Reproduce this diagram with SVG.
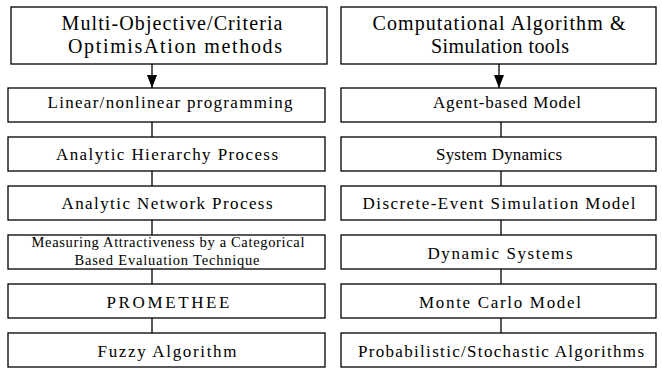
<svg xmlns="http://www.w3.org/2000/svg" width="662" height="368" viewBox="0 0 662 368">
  <defs>
    <style>
      .box { fill: #ffffff; stroke: #000000; stroke-width: 1.3; }
      .t { font-family: 'Liberation Serif', serif; fill: #000000; text-anchor: middle; }
      .h { font-size: 20px; }
      .m { font-size: 17px; }
      .s { font-size: 14.5px; }
      .link { stroke: #000000; stroke-width: 1.3; fill: none; }
    </style>
    <marker id="arrow" viewBox="0 0 13 10" refX="13" refY="5" markerWidth="13" markerHeight="10" markerUnits="userSpaceOnUse" orient="auto">
      <path d="M0,0 L13,5 L0,10 Z" fill="#000000"/>
    </marker>
  </defs>

  <rect width="662" height="368" fill="#ffffff"/>

  <!-- connectors -->
  <g id="connectors">
    <line class="link" x1="152" y1="64" x2="152" y2="88" marker-end="url(#arrow)"/>
    <line class="link" x1="152" y1="122" x2="152" y2="137"/>
    <line class="link" x1="152" y1="171" x2="152" y2="186"/>
    <line class="link" x1="152" y1="220" x2="152" y2="235"/>
    <line class="link" x1="152" y1="269" x2="152" y2="284"/>
    <line class="link" x1="152" y1="318" x2="152" y2="333"/>

    <line class="link" x1="499" y1="64" x2="499" y2="88" marker-end="url(#arrow)"/>
    <line class="link" x1="501" y1="122" x2="501" y2="137"/>
    <line class="link" x1="501" y1="171" x2="501" y2="186"/>
    <line class="link" x1="501" y1="220" x2="501" y2="235"/>
    <line class="link" x1="501" y1="269" x2="501" y2="284"/>
    <line class="link" x1="501" y1="318" x2="501" y2="333"/>
  </g>

  <!-- left column: optimisation methods -->
  <g id="mcda-header" font-family="'Liberation Serif', serif">
    <rect class="box" x="11" y="7" width="316" height="57"/>
    <text class="t h" x="172" y="30" textLength="221" lengthAdjust="spacing">Multi-Objective/Criteria</text>
    <text class="t h" x="175" y="53" textLength="214" lengthAdjust="spacing">OptimisAtion methods</text>
  </g>
  <g id="linear-programming" font-family="'Liberation Serif', serif">
    <rect class="box" x="8" y="88" width="317" height="34"/>
    <text class="t m" x="170" y="108" textLength="245" lengthAdjust="spacing">Linear/nonlinear programming</text>
  </g>
  <g id="ahp" font-family="'Liberation Serif', serif">
    <rect class="box" x="8" y="137" width="317" height="34"/>
    <text class="t m" x="167" y="160" textLength="222" lengthAdjust="spacing">Analytic Hierarchy Process</text>
  </g>
  <g id="anp" font-family="'Liberation Serif', serif">
    <rect class="box" x="8" y="186" width="317" height="34"/>
    <text class="t m" x="167" y="209" textLength="211" lengthAdjust="spacing">Analytic Network Process</text>
  </g>
  <g id="macbeth" font-family="'Liberation Serif', serif">
    <rect class="box" x="8" y="235" width="317" height="34"/>
    <text class="t s" x="168" y="247" textLength="273" lengthAdjust="spacing">Measuring Attractiveness by a Categorical</text>
    <text class="t s" x="167" y="265" textLength="185" lengthAdjust="spacing">Based Evaluation Technique</text>
  </g>
  <g id="promethee" font-family="'Liberation Serif', serif">
    <rect class="box" x="8" y="284" width="317" height="34"/>
    <text class="t m" x="168" y="308" textLength="123" lengthAdjust="spacing">PROMETHEE</text>
  </g>
  <g id="fuzzy" font-family="'Liberation Serif', serif">
    <rect class="box" x="8" y="333" width="317" height="34"/>
    <text class="t m" x="167" y="357" textLength="139" lengthAdjust="spacing">Fuzzy Algorithm</text>
  </g>

  <!-- right column: computational and simulation tools -->
  <g id="sim-header" font-family="'Liberation Serif', serif">
    <rect class="box" x="341" y="7" width="315" height="57"/>
    <text class="t h" x="499" y="30" textLength="253" lengthAdjust="spacing">Computational Algorithm &amp;</text>
    <text class="t h" x="500" y="53" textLength="138" lengthAdjust="spacing">Simulation tools</text>
  </g>
  <g id="agent-based" font-family="'Liberation Serif', serif">
    <rect class="box" x="341" y="88" width="315" height="34"/>
    <text class="t m" x="507" y="108" textLength="148" lengthAdjust="spacing">Agent-based Model</text>
  </g>
  <g id="system-dynamics" font-family="'Liberation Serif', serif">
    <rect class="box" x="341" y="137" width="315" height="34"/>
    <text class="t m" x="499" y="160" textLength="126" lengthAdjust="spacing">System Dynamics</text>
  </g>
  <g id="discrete-event" font-family="'Liberation Serif', serif">
    <rect class="box" x="341" y="186" width="315" height="34"/>
    <text class="t m" x="499" y="209" textLength="273" lengthAdjust="spacing">Discrete-Event Simulation Model</text>
  </g>
  <g id="dynamic-systems" font-family="'Liberation Serif', serif">
    <rect class="box" x="341" y="235" width="315" height="34"/>
    <text class="t m" x="500" y="259" textLength="145" lengthAdjust="spacing">Dynamic Systems</text>
  </g>
  <g id="monte-carlo" font-family="'Liberation Serif', serif">
    <rect class="box" x="341" y="284" width="315" height="34"/>
    <text class="t m" x="500" y="308" textLength="162" lengthAdjust="spacing">Monte Carlo Model</text>
  </g>
  <g id="probabilistic" font-family="'Liberation Serif', serif">
    <rect class="box" x="341" y="333" width="315" height="34"/>
    <text class="t m" x="501" y="357" textLength="286" lengthAdjust="spacing">Probabilistic/Stochastic Algorithms</text>
  </g>
</svg>
